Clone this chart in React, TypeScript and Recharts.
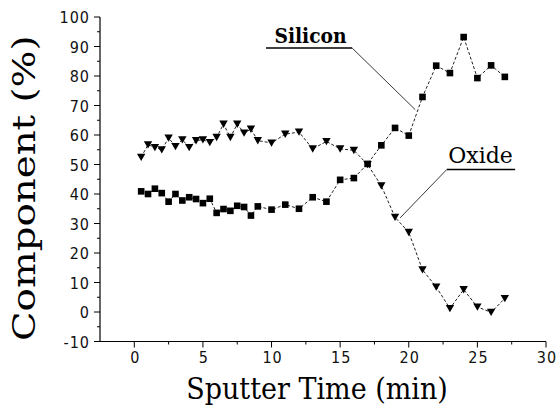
import { LineChart, Line, XAxis, YAxis, ReferenceLine, ReferenceDot } from 'recharts'

// sputter time (min) for each measurement
const TIME = [
  0.5, 1, 1.5, 2, 2.5, 3, 3.5, 4, 4.5, 5, 5.5, 6, 6.5, 7, 7.5, 8, 8.5, 9,
  10, 11, 12, 13, 14, 15, 16, 17, 18, 19, 20, 21, 22, 23, 24, 25, 26, 27,
]
const SILICON = [
  40.9, 40.0, 41.8, 40.3, 37.4, 40.0, 37.8, 38.9, 38.3, 36.9, 38.4, 33.6, 34.9, 34.3, 36.0, 35.6, 32.7, 35.8,
  34.7, 36.4, 35.0, 38.9, 37.4, 44.8, 45.4, 50.2, 56.5, 62.4, 59.8, 72.9, 83.5, 81.0, 93.2, 79.3, 83.6, 79.7,
]
const OXIDE = [
  52.5, 56.7, 55.8, 55.0, 59.0, 56.1, 58.4, 55.8, 58.1, 58.4, 57.5, 59.2, 63.7, 59.2, 63.7, 60.7, 62.0, 58.1,
  57.3, 60.3, 61.0, 55.3, 57.8, 55.3, 54.8, 50.0, 42.8, 32.1, 27.0, 14.3, 8.5, 1.2, 7.6, 1.7, -0.1, 4.6,
]

const X_TICKS = [0, 2.5, 5, 7.5, 10, 12.5, 15, 17.5, 20, 22.5, 25, 27.5, 30]
const Y_TICKS = [-10, -5, 0, 5, 10, 15, 20, 25, 30, 35, 40, 45, 50, 55, 60, 65, 70, 75, 80, 85, 90, 95, 100]

// annotation callouts: label anchor, underline ends, leader start and tip (data units)
const SILICON_NOTE = { text: 'Silicon', at: [12.84, 91.3], line: [[9.6, 89.5], [15.87, 89.5]], from: [15.87, 89.5], tip: [20.47, 68.6] }
const OXIDE_NOTE = { text: 'Oxide', at: [25.23, 50.6], line: [[22.77, 48.3], [27.75, 48.3]], from: [22.77, 48.3], tip: [19.37, 31.9] }

const data = TIME.map((t, i) => ({ t, silicon: SILICON[i], oxide: OXIDE[i] }))

// font-family only sticks when given through style
const SERIF = "'DejaVu Serif', 'Liberation Serif', serif"
const NARROW = "'DejaVu Sans Condensed', sans-serif"

function XTick({ x, y, payload }: any) {
  const major = payload.value % 5 === 0
  return (
    <g>
      <line x1={x} x2={x} y1={y} y2={y + (major ? 6 : 3)} stroke="#000" />
      {major && (
        <text x={x + 1} y={y + 21} textAnchor="middle" fill="#111" style={{ fontFamily: NARROW, fontSize: 16, letterSpacing: 1 }}>
          {payload.value}
        </text>
      )}
    </g>
  )
}

function YTick({ x, y, payload }: any) {
  const major = payload.value % 10 === 0
  return (
    <g>
      <line x1={x} x2={x - (major ? 6 : 3)} y1={y} y2={y} stroke="#000" />
      {major && (
        <text x={x - 10} y={y + 6} textAnchor="end" fill="#111" style={{ fontFamily: NARROW, fontSize: 16, letterSpacing: 1 }}>
          {payload.value}
        </text>
      )}
    </g>
  )
}

const Square = (p: any) => (
  <rect key={`s-${p.index}`} x={p.cx - 3.3} y={p.cy - 3.3} width={6.6} height={6.6} fill="#000" />
)
const Triangle = (p: any) => (
  <path
    key={`t-${p.index}`}
    d={`M${p.cx - 4.2},${p.cy - 3.5} L${p.cx + 4.2},${p.cy - 3.5} L${p.cx},${p.cy + 3.8} Z`}
    fill="#000"
  />
)

function Note({ note, bold, size, sx }: { note: typeof SILICON_NOTE; bold?: boolean; size: number; sx: number }) {
  return [
    <ReferenceLine
      key={`${note.text}-u`}
      segment={[{ x: note.line[0][0], y: note.line[0][1] }, { x: note.line[1][0], y: note.line[1][1] }]}
      stroke="#000"
      strokeWidth={1.3}
    />,
    <ReferenceLine
      key={`${note.text}-l`}
      segment={[{ x: note.from[0], y: note.from[1] }, { x: note.tip[0], y: note.tip[1] }]}
      stroke="#222"
      strokeWidth={0.9}
    />,
    <ReferenceDot
      key={`${note.text}-t`}
      x={note.at[0]}
      y={note.at[1]}
      r={0}
      shape={(p: any) => (
        <text
          x={0}
          y={0}
          transform={`translate(${p.cx}, ${p.cy}) scale(${sx}, 1)`}
          textAnchor="middle"
          fill="#000"
          style={{ fontFamily: SERIF, fontSize: size, fontWeight: bold ? 'bold' : 'normal' }}
        >
          {note.text}
        </text>
      )}
    />,
  ]
}

export default function App() {
  return (
    <div style={{ position: 'absolute', left: 0, top: 0, background: '#fff' }}>
      <LineChart width={556} height={414} data={data} margin={{ top: 17, right: 10, left: 0, bottom: 0 }}>
        <XAxis
          dataKey="t"
          type="number"
          domain={[-2.5, 30]}
          ticks={X_TICKS}
          interval={0}
          tickSize={0}
          tickMargin={0}
          tickLine={false}
          tick={<XTick />}
          height={72.5}
          axisLine={{ stroke: '#000', strokeWidth: 1.2 }}
          allowDataOverflow
          label={{
            content: (p: any) => (
              <text
                x={0}
                y={0}
                transform={`translate(${p.viewBox.x + p.viewBox.width / 2 - 6}, ${p.viewBox.y + 57}) scale(0.9, 1)`}
                textAnchor="middle"
                fill="#000"
                style={{ fontFamily: SERIF, fontSize: 30 }}
              >
                Sputter Time (min)
              </text>
            ),
          }}
        />
        <XAxis xAxisId="top" orientation="top" type="number" domain={[-2.5, 30]} tick={false} tickLine={false} height={0} axisLine={{ stroke: '#000' }} />
        <YAxis
          type="number"
          domain={[-10, 100]}
          ticks={Y_TICKS}
          interval={0}
          tickSize={0}
          tickMargin={0}
          tickLine={false}
          tick={<YTick />}
          width={100}
          axisLine={{ stroke: '#000', strokeWidth: 1.2 }}
          label={{
            content: (p: any) => {
              const cy = p.viewBox.y + p.viewBox.height / 2 + 9
              return (
                <text
                  x={0}
                  y={0}
                  transform={`translate(35, ${cy}) rotate(-90) scale(1.25, 1)`}
                  textAnchor="middle"
                  fill="#000"
                  style={{ fontFamily: SERIF, fontSize: 31 }}
                >
                  Component (%)
                </text>
              )
            },
          }}
        />
        <YAxis yAxisId="right" orientation="right" type="number" domain={[-10, 100]} tick={false} tickLine={false} width={0} axisLine={{ stroke: '#000' }} />
        <Line
          dataKey="silicon"
          type="linear"
          stroke="#222"
          strokeWidth={1}
          strokeDasharray="3 2"
          dot={Square}
          activeDot={false}
          isAnimationActive={false}
        />
        <Line
          dataKey="oxide"
          type="linear"
          stroke="#222"
          strokeWidth={1}
          strokeDasharray="3 2"
          dot={Triangle}
          activeDot={false}
          isAnimationActive={false}
        />
        {Note({ note: SILICON_NOTE, bold: true, size: 21, sx: 0.89 })}
        {Note({ note: OXIDE_NOTE, size: 22, sx: 1 })}
      </LineChart>
    </div>
  )
}
